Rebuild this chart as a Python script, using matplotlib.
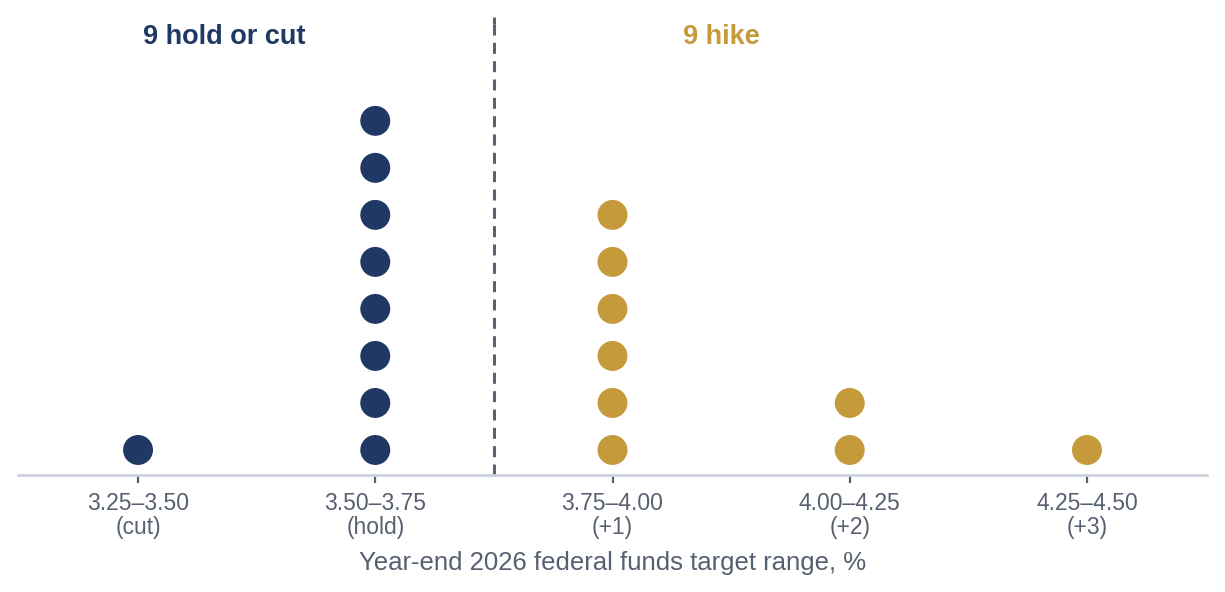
import matplotlib.pyplot as plt

# --- data ---
ranges = ["3.25–3.50", "3.50–3.75", "3.75–4.00", "4.00–4.25", "4.25–4.50"]
moves = ["(cut)", "(hold)", "(+1)", "(+2)", "(+3)"]
hold_cut_counts = [1, 8, 0, 0, 0]
hike_counts = [0, 0, 6, 2, 1]

navy = "#1f3864"
gold = "#c49a3a"
grey = "#566070"

plt.rcParams["font.family"] = ["Liberation Sans", "DejaVu Sans"]

fig = plt.figure(figsize=(12.25, 5.92), dpi=100)
ax = fig.add_axes([18 / 1225, 117 / 592, 1189 / 1225, 475 / 592])

# stacked dots, one per participant
for counts, color in [(hold_cut_counts, navy), (hike_counts, gold)]:
    xs, ys = [], []
    for i, c in enumerate(counts):
        for k in range(1, c + 1):
            xs.append(i)
            ys.append(k)
    ax.scatter(xs, ys, s=465, color=color, edgecolors="none", zorder=3)

ax.set_xlim(-0.506, 4.506)
ax.set_ylim(0.468, 10.57)

# divider between hold/cut and hike
ax.plot([1.5, 1.5], [0.468, 10.2], color="#5b6272", lw=2.2,
        dashes=(3.6, 2.4), zorder=2, clip_on=False)
ax.plot([1.5, 1.5], [10.05, 10.2], color="#5b6272", lw=2.2,
        solid_capstyle="butt", zorder=2, clip_on=False)

ax.text(0.365, 9.78, "9 hold or cut", color=navy, fontsize=19.5,
        fontweight="bold", ha="center", va="center")
ax.text(2.46, 9.78, "9 hike", color=gold, fontsize=19.5,
        fontweight="bold", ha="center", va="center")

for s in ["top", "right", "left"]:
    ax.spines[s].set_visible(False)
ax.spines["bottom"].set_color("#cdd3dc")
ax.spines["bottom"].set_linewidth(2)
ax.set_yticks([])
ax.set_xticks(range(len(ranges)))
ax.set_xticklabels([f"{r}\n{m}" for r, m in zip(ranges, moves)],
                   fontsize=16.5, color=grey, linespacing=1.1)
ax.tick_params(axis="x", length=6, width=1.6, color=grey, pad=6)
ax.set_xlabel("Year-end 2026 federal funds target range, %",
              fontsize=18.5, color=grey, labelpad=8)

fig.savefig("out.png", dpi=100)
